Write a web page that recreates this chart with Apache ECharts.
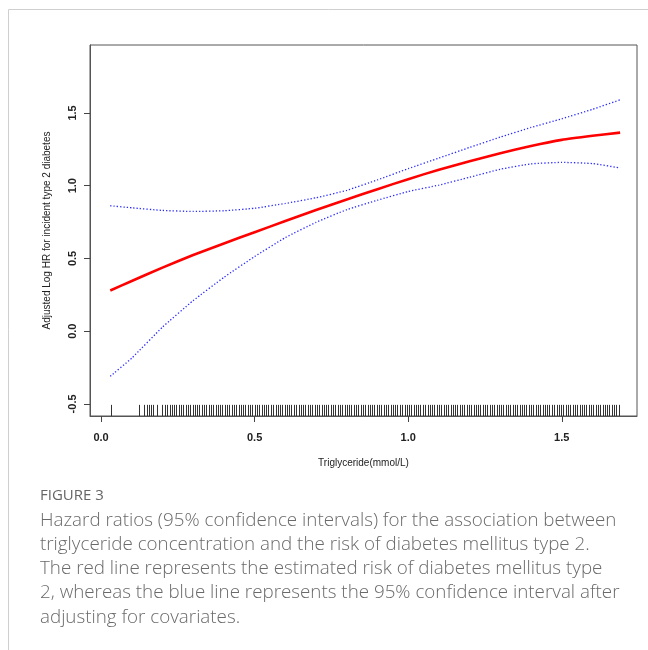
<!DOCTYPE html>
<html>
<head>
<meta charset="utf-8">
<script src="https://cdn.jsdelivr.net/npm/echarts@6.0.0/dist/echarts.min.js"></script>
<style>
  html, body { margin: 0; padding: 0; background: #fff; }
  #chart { width: 648px; height: 650px; }
</style>
</head>
<body>
<div id="chart"></div>
<script>
// ---- data ----
const xVals   = [0.03, 0.1, 0.2, 0.3, 0.4, 0.5, 0.6, 0.7, 0.8, 0.9, 1.0, 1.1, 1.2, 1.3, 1.4, 1.5, 1.6, 1.69];
const estimate = [0.28, 0.345, 0.437, 0.524, 0.603, 0.68, 0.757, 0.833, 0.905, 0.976, 1.045, 1.11, 1.168, 1.223, 1.273, 1.315, 1.343, 1.365];
const upperCI  = [0.862, 0.848, 0.83, 0.823, 0.828, 0.845, 0.878, 0.917, 0.968, 1.04, 1.117, 1.19, 1.263, 1.334, 1.40, 1.46, 1.525, 1.59];
const lowerCI  = [-0.31, -0.185, 0.028, 0.21, 0.37, 0.513, 0.643, 0.748, 0.835, 0.90, 0.96, 1.004, 1.058, 1.113, 1.15, 1.16, 1.152, 1.122];
const rugVals = [0.032, 0.122, 0.140, 0.148, 0.155, 0.163, 0.170, 0.181,
  0.200,0.208,0.215,0.223,0.230,0.238,0.245,0.253,0.260,0.268,0.275,0.283,0.290,0.298,0.305,0.313,0.320,0.328,0.335,0.343,0.350,0.358,0.365,0.373,0.380,0.388,0.395,0.403,0.410,0.418,0.425,0.433,0.440,0.448,0.455,0.463,0.470,0.478,0.485,0.493,
  0.500,0.508,0.515,0.523,0.530,0.538,0.545,0.553,0.560,0.568,0.575,0.583,0.590,0.598,0.605,0.613,0.620,0.628,0.635,0.643,0.650,0.658,0.665,0.673,0.680,0.688,0.695,0.703,0.710,0.718,0.725,0.733,0.740,0.748,0.755,0.763,0.770,0.778,0.785,0.793,
  0.800,0.808,0.815,0.823,0.830,0.838,0.845,0.853,0.860,0.868,0.875,0.883,0.890,0.898,0.905,0.913,0.920,0.928,0.935,0.943,0.950,0.958,0.965,0.973,0.980,0.988,0.995,1.003,1.010,1.018,1.025,1.033,1.040,1.048,1.055,1.063,1.070,1.078,1.085,1.093,
  1.100,1.108,1.115,1.123,1.130,1.138,1.145,1.153,1.160,1.168,1.175,1.183,1.190,1.198,1.205,1.213,1.220,1.228,1.235,1.243,1.250,1.258,1.265,1.273,1.280,1.288,1.295,1.303,1.310,1.318,1.325,1.333,1.340,1.348,1.355,1.363,1.370,1.378,1.385,1.393,
  1.400,1.408,1.415,1.423,1.430,1.438,1.445,1.453,1.460,1.468,1.475,1.483,1.490,1.498,1.505,1.513,1.520,1.528,1.535,1.543,1.550,1.558,1.565,1.573,1.580,1.588,1.595,1.603,1.610,1.618,1.625,1.633,1.640,1.648,1.655,1.663,1.670,1.678,1.685];
const xTicks = [0, 0.5, 1.0, 1.5];
const yTicks = [-0.5, 0, 0.5, 1.0, 1.5];
const xName = 'Triglyceride(mmol/L)';
const yName = 'Adjusted Log HR for incident type 2 diabetes';
const figLabel = 'FIGURE 3';
const captionLines = [
  'Hazard ratios (95% confidence intervals) for the association between',
  'triglyceride concentration and the risk of diabetes mellitus type 2.',
  'The red line represents the estimated risk of diabetes mellitus type',
  '2, whereas the blue line represents the 95% confidence interval after',
  'adjusting for covariates.'
];

// ---- chart ----
const X_MIN = -0.036, X_MAX = 1.745;
const Y_MIN = -0.583, Y_MAX = 1.967;
const pair = (arr) => xVals.map((x, i) => [x, arr[i]]);

const chart = echarts.init(document.getElementById('chart'), null, { renderer: 'canvas' });
const axisColor = '#444';
const tickFont = { fontFamily: 'Liberation Sans, Arial, sans-serif', fontSize: 11, fontWeight: 'bold', color: '#222' };

chart.setOption({
  animation: false,
  backgroundColor: '#fff',
  grid: { left: 90, top: 45, width: 547, height: 371, show: true, borderColor: '#555', borderWidth: 1, containLabel: false, outerBoundsMode: 'none' },
  xAxis: {
    type: 'value', min: X_MIN, max: X_MAX,
    name: xName, nameLocation: 'middle', nameGap: 42,
    nameTextStyle: { fontFamily: 'Liberation Sans, Arial, sans-serif', fontSize: 10, color: '#222' },
    axisLine: { show: true, onZero: false, lineStyle: { color: '#555', width: 1 } },
    axisTick: { show: true, customValues: xTicks, length: 6, lineStyle: { color: axisColor } },
    axisLabel: Object.assign({ customValues: xTicks, margin: 16, formatter: (v) => v.toFixed(1) }, tickFont),
    splitLine: { show: false }
  },
  yAxis: {
    type: 'value', min: Y_MIN, max: Y_MAX,
    name: yName, nameLocation: 'middle', nameGap: 38,
    nameTextStyle: { fontFamily: 'Liberation Sans, Arial, sans-serif', fontSize: 10, color: '#222' },
    axisLine: { show: true, onZero: false, lineStyle: { color: '#555', width: 1 } },
    axisTick: { show: true, customValues: yTicks, length: 6, lineStyle: { color: axisColor } },
    axisLabel: Object.assign({ customValues: yTicks, margin: 12, rotate: 90, formatter: (v) => v.toFixed(1) }, tickFont),
    splitLine: { show: false }
  },
  graphic: [
    { type: 'line', shape: { x1: 8.5, y1: 9.5, x2: 648, y2: 9.5 }, style: { stroke: '#cfcfcf', lineWidth: 1 } },
    { type: 'line', shape: { x1: 8.5, y1: 9.5, x2: 8.5, y2: 650 }, style: { stroke: '#cfcfcf', lineWidth: 1 } },
    { type: 'text', left: 40, top: 488, style: { text: figLabel, fontFamily: 'Open Sans, Lato, sans-serif', fontSize: 15, fill: '#666' } },
    { type: 'text', left: 40, top: 508, style: { text: captionLines.join('\n'), fontFamily: 'Open Sans, Lato, sans-serif', fontSize: 18.8, fontWeight: 300, lineHeight: 24.3, fill: '#6a6a6a' } }
  ],
  series: [
    {
      type: 'custom', name: 'rug', silent: true, z: 1,
      data: rugVals.map(v => [v]),
      renderItem: (params, api) => {
        const x = api.value(0);
        const h = (Y_MAX - Y_MIN) * 0.03;
        const p0 = api.coord([x, Y_MIN]);
        const p1 = api.coord([x, Y_MIN + h]);
        const px = Math.round(p0[0]) + 0.5;
        return { type: 'line', shape: { x1: px, y1: p0[1], x2: px, y2: p1[1] }, style: { stroke: '#333', lineWidth: 1 } };
      }
    },
    { type: 'line', name: 'upper', data: pair(upperCI), smooth: 0.15, showSymbol: false, lineStyle: { color: '#2a2aff', width: 1.3, type: [1.3, 2] }, z: 3 },
    { type: 'line', name: 'lower', data: pair(lowerCI), smooth: 0.15, showSymbol: false, lineStyle: { color: '#2a2aff', width: 1.3, type: [1.3, 2] }, z: 3 },
    { type: 'line', name: 'estimate', data: pair(estimate), smooth: 0.15, showSymbol: false, lineStyle: { color: '#ff0000', width: 2.6 }, z: 4 }
  ]
});
</script>
</body>
</html>
